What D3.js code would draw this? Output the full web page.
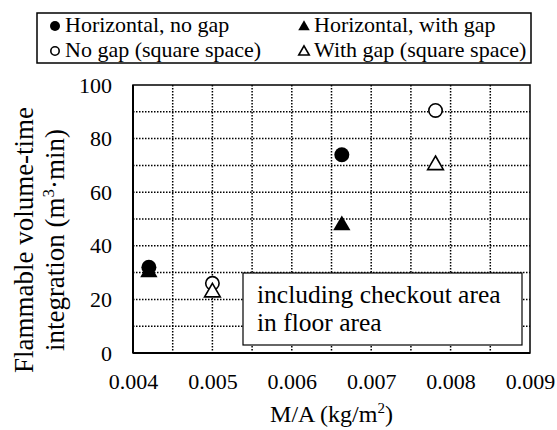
<!DOCTYPE html>
<html>
<head>
<meta charset="utf-8">
<script src="https://cdn.jsdelivr.net/npm/d3@7"></script>
<style>
  body { margin: 0; background: #fff; }
  text { font-family: "Liberation Serif", "Times New Roman", "DejaVu Serif", serif; }
</style>
</head>
<body>
<div id="chart"></div>
<script>
const seriesNames = [
  "Horizontal, no gap",
  "Horizontal, with gap",
  "No gap (square space)",
  "With gap (square space)"
];
const seriesShapes = ["circle", "triangle", "circle", "triangle"];
const seriesFilled = [true, true, false, false];

const horizNoGap = [[0.0042, 32], [0.00663, 74]];
const horizWithGap = [[0.0042, 30.5], [0.00663, 48]];
const squareNoGap = [[0.005, 26], [0.00781, 90.5]];
const squareWithGap = [[0.005, 23], [0.00781, 70.5]];
const seriesData = [horizNoGap, horizWithGap, squareNoGap, squareWithGap];

const xTicks = [0.004, 0.005, 0.006, 0.007, 0.008, 0.009];
const yTicks = [0, 20, 40, 60, 80, 100];
const xGrid = d3.range(0.004, 0.00901, 0.0005);
const yGrid = d3.range(0, 101, 10);

const width = 557, height = 430;
const plotL = 133, plotR = 530, plotT = 85, plotB = 353;
const serif = "'Liberation Serif', 'Times New Roman', 'DejaVu Serif', serif";

const x = d3.scaleLinear().domain([0.004, 0.009]).range([plotL, plotR]);
const y = d3.scaleLinear().domain([0, 100]).range([plotB, plotT]);

const svg = d3.select("#chart").append("svg")
  .attr("width", width)
  .attr("height", height)
  .style("display", "block");

// grid
svg.append("g")
  .selectAll("line")
  .data(xGrid.slice(1, -1))
  .join("line")
  .attr("x1", d => x(d)).attr("x2", d => x(d))
  .attr("y1", plotT).attr("y2", plotB)
  .attr("stroke", "#000").attr("stroke-width", 1.5)
  .attr("stroke-dasharray", "1.5,1.5");

svg.append("g")
  .selectAll("line")
  .data(yGrid.slice(1, -1))
  .join("line")
  .attr("x1", plotL).attr("x2", plotR)
  .attr("y1", d => y(d)).attr("y2", d => y(d))
  .attr("stroke", "#000").attr("stroke-width", 1.5)
  .attr("stroke-dasharray", "1.5,1.5");

// frame
svg.append("rect")
  .attr("x", plotL).attr("y", plotT)
  .attr("width", plotR - plotL).attr("height", plotB - plotT)
  .attr("fill", "none").attr("stroke", "#000").attr("stroke-width", 1.5);
svg.append("line")
  .attr("x1", plotL).attr("x2", plotL).attr("y1", plotT).attr("y2", plotB)
  .attr("stroke", "#000").attr("stroke-width", 2);
svg.append("line")
  .attr("x1", plotL).attr("x2", plotR).attr("y1", plotB).attr("y2", plotB)
  .attr("stroke", "#000").attr("stroke-width", 2);

// axes (labels only)
const xAxis = svg.append("g")
  .attr("transform", `translate(0,${plotB})`)
  .call(d3.axisBottom(x).tickValues(xTicks).tickSize(0).tickPadding(20).tickFormat(d3.format(".3f")));
const yAxis = svg.append("g")
  .attr("transform", `translate(${plotL},0)`)
  .call(d3.axisLeft(y).tickValues(yTicks).tickSize(0).tickPadding(21));
[xAxis, yAxis].forEach(a => {
  a.attr("font-family", null).attr("font-size", null);
  a.select(".domain").remove();
  a.selectAll("text")
    .style("font-family", serif)
    .style("font-size", "22px")
    .attr("fill", "#000");
});

// annotation box
svg.append("rect")
  .attr("x", 243).attr("y", 273)
  .attr("width", 279).attr("height", 72)
  .attr("fill", "#fff").attr("stroke", "#000").attr("stroke-width", 1.2);
const note = svg.append("text")
  .style("font-family", serif)
  .style("font-size", "25.5px")
  .attr("fill", "#000");
note.append("tspan").attr("x", 257).attr("y", 303).text("including checkout area");
note.append("tspan").attr("x", 257).attr("y", 331).text("in floor area");

// markers
const triangle = d3.symbol().type(d3.symbolTriangle);
function drawMarker(g, shape, filled, cx, cy, size) {
  if (shape === "circle") {
    g.append("circle")
      .attr("cx", cx).attr("cy", cy)
      .attr("r", filled ? size : size - 0.8)
      .attr("fill", filled ? "#000" : "#fff")
      .attr("stroke", "#000").attr("stroke-width", filled ? 0 : 1.6);
  } else {
    g.append("path")
      .attr("d", triangle.size(filled ? size * size * 2.3 : size * size * 1.9)())
      .attr("transform", `translate(${cx},${cy + 1})`)
      .attr("fill", filled ? "#000" : "#fff")
      .attr("stroke", "#000").attr("stroke-width", filled ? 0 : 1.6);
  }
}

const marks = svg.append("g");
seriesData.forEach((pts, i) => {
  pts.forEach(([mx, my]) => {
    drawMarker(marks, seriesShapes[i], seriesFilled[i], x(mx), y(my), 7.5);
  });
});

// legend
svg.append("rect")
  .attr("x", 37).attr("y", 13)
  .attr("width", 494).attr("height", 50)
  .attr("fill", "#fff").attr("stroke", "#000").attr("stroke-width", 1.5);
const legendPos = [[55, 26], [304, 26], [55, 51], [304, 51]];
seriesNames.forEach((name, i) => {
  const [lx, ly] = legendPos[i];
  const lg = svg.append("g");
  drawMarker(lg, seriesShapes[i], seriesFilled[i], lx, ly, 5);
  lg.append("text")
    .attr("x", lx + 10).attr("y", ly + 6)
    .style("font-family", serif)
    .style("font-size", "22px")
    .attr("fill", "#000")
    .text(name);
});

// axis titles
svg.append("text")
  .attr("x", (plotL + plotR) / 2).attr("y", 422)
  .attr("text-anchor", "middle")
  .style("font-family", serif)
  .style("font-size", "24px")
  .attr("fill", "#000")
  .html("M/A (kg/m<tspan dy='-9' style='font-size:15px'>2</tspan><tspan dy='9'>)</tspan>");

const yTitle = svg.append("text")
  .attr("transform", "translate(0,240) rotate(-90)")
  .attr("text-anchor", "middle")
  .style("font-family", serif)
  .style("font-size", "27px")
  .attr("fill", "#000");
yTitle.append("tspan").attr("x", 0).attr("y", 33).text("Flammable volume-time");
yTitle.append("tspan").attr("x", 0).attr("y", 64)
  .html("integration (m<tspan dy='-10' style='font-size:17px'>3</tspan><tspan dy='10'>·min)</tspan>");
</script>
</body>
</html>
